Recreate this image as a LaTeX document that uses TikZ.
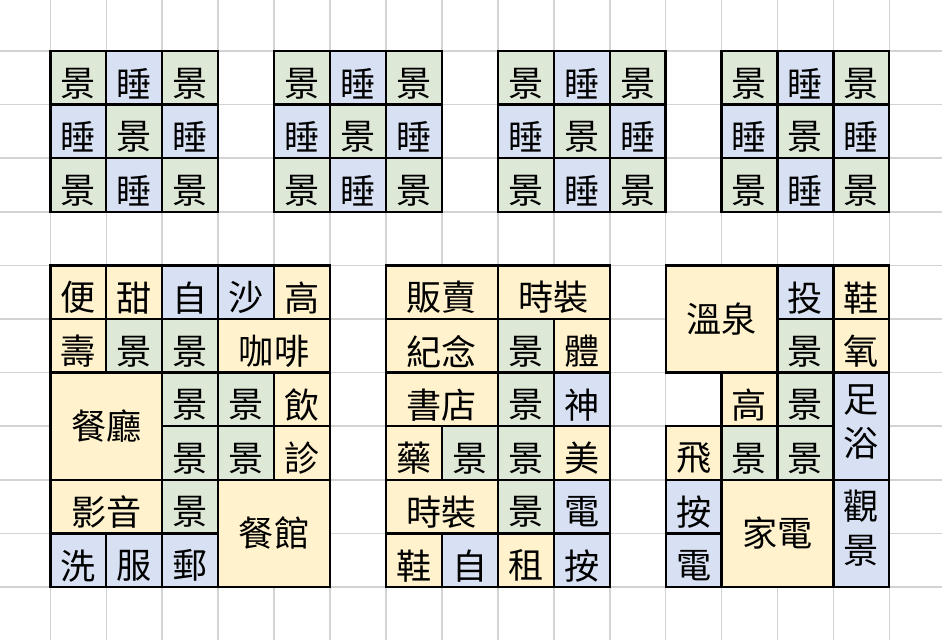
\documentclass[tikz,border=0pt]{standalone}
\usepackage{fontspec}
\newfontfamily\cjk{Noto Sans CJK TC}
\definecolor{yel}{HTML}{FFF2CC}
\definecolor{grn}{HTML}{DEE8D6}
\definecolor{blu}{HTML}{D8E1F3}
\definecolor{gridgray}{HTML}{D3D3D3}
\tikzset{
  cellbase/.style={draw=black, line width=1.3pt, rectangle, inner sep=0pt, outer sep=0pt, anchor=north west},
  celltext/.style={font=\cjk\fontsize{20}{25}\selectfont, inner sep=0pt, align=center, text=black},
  gridline/.style={draw=gridgray, line width=0.9pt}
}
% col row w h fill text [yshift]
\newcommand\cellbox[7][-0.11cm]{%
  \node[cellbase, fill=#6, minimum width={#4*1.1186cm}, minimum height={#5*1.072cm}] (c#2-#3) at ({50.4+55.93*#2},{51+53.6*#3}) {};
  \node[celltext] (t#2-#3) at ([yshift=#1]c#2-#3.center) {#7};}
\begin{document}
\begin{tikzpicture}[x=0.02cm,y=-0.02cm]
\useasboundingbox (0,0) rectangle (942,640);
\fill[white] (0,0) rectangle (942,640);
% background grid
\foreach \k in {0,...,10}{\draw[gridline] (0,{51+53.6*\k}) -- (942,{51+53.6*\k});}
\foreach \k in {0,...,15}{\draw[gridline] ({50.4+55.93*\k},0) -- ({50.4+55.93*\k},640);}
% top blocks
\foreach \b in {0,4,8,12}{
  \foreach \i/\j/\s/\t in {0/0/grn/景,1/0/blu/睡,2/0/grn/景,0/1/blu/睡,1/1/grn/景,2/1/blu/睡,0/2/grn/景,1/2/blu/睡,2/2/grn/景}{
    \pgfmathtruncatemacro\cc{\b+\i}
    \cellbox{\cc}{\j}{1}{1}{\s}{\t}
  }
}
% block A
\cellbox{0}{4}{1}{1}{yel}{便}
\cellbox{1}{4}{1}{1}{yel}{甜}
\cellbox{2}{4}{1}{1}{blu}{自}
\cellbox{3}{4}{1}{1}{blu}{沙}
\cellbox{4}{4}{1}{1}{yel}{高}
\cellbox{0}{5}{1}{1}{yel}{壽}
\cellbox{1}{5}{1}{1}{grn}{景}
\cellbox{2}{5}{1}{1}{grn}{景}
\cellbox{3}{5}{2}{1}{yel}{咖啡}
\cellbox[0cm]{0}{6}{2}{2}{yel}{餐廳}
\cellbox{2}{6}{1}{1}{grn}{景}
\cellbox{3}{6}{1}{1}{grn}{景}
\cellbox{4}{6}{1}{1}{yel}{飲}
\cellbox{2}{7}{1}{1}{grn}{景}
\cellbox{3}{7}{1}{1}{grn}{景}
\cellbox{4}{7}{1}{1}{yel}{診}
\cellbox{0}{8}{2}{1}{yel}{影音}
\cellbox{2}{8}{1}{1}{grn}{景}
\cellbox[0cm]{3}{8}{2}{2}{yel}{餐館}
\cellbox{0}{9}{1}{1}{blu}{洗}
\cellbox{1}{9}{1}{1}{blu}{服}
\cellbox{2}{9}{1}{1}{blu}{郵}
% block B
\cellbox{6}{4}{2}{1}{yel}{販賣}
\cellbox{8}{4}{2}{1}{yel}{時裝}
\cellbox{6}{5}{2}{1}{yel}{紀念}
\cellbox{8}{5}{1}{1}{grn}{景}
\cellbox{9}{5}{1}{1}{yel}{體}
\cellbox{6}{6}{2}{1}{yel}{書店}
\cellbox{8}{6}{1}{1}{grn}{景}
\cellbox{9}{6}{1}{1}{blu}{神}
\cellbox{6}{7}{1}{1}{yel}{藥}
\cellbox{7}{7}{1}{1}{grn}{景}
\cellbox{8}{7}{1}{1}{grn}{景}
\cellbox{9}{7}{1}{1}{yel}{美}
\cellbox{6}{8}{2}{1}{yel}{時裝}
\cellbox{8}{8}{1}{1}{grn}{景}
\cellbox{9}{8}{1}{1}{blu}{電}
\cellbox{6}{9}{1}{1}{yel}{鞋}
\cellbox{7}{9}{1}{1}{blu}{自}
\cellbox{8}{9}{1}{1}{yel}{租}
\cellbox{9}{9}{1}{1}{blu}{按}
% block C
\cellbox[0cm]{11}{4}{2}{2}{yel}{溫泉}
\cellbox{13}{4}{1}{1}{blu}{投}
\cellbox{14}{4}{1}{1}{yel}{鞋}
\cellbox{13}{5}{1}{1}{grn}{景}
\cellbox{14}{5}{1}{1}{yel}{氧}
\cellbox{12}{6}{1}{1}{yel}{高}
\cellbox{13}{6}{1}{1}{grn}{景}
\cellbox[0.08cm]{14}{6}{1}{2}{blu}{足\\浴}
\cellbox{11}{7}{1}{1}{yel}{飛}
\cellbox{12}{7}{1}{1}{grn}{景}
\cellbox{13}{7}{1}{1}{grn}{景}
\cellbox{11}{8}{1}{1}{blu}{按}
\cellbox[0cm]{12}{8}{2}{2}{yel}{家電}
\cellbox[0.1cm]{14}{8}{1}{2}{blu}{觀\\景}
\cellbox{11}{9}{1}{1}{blu}{電}
\end{tikzpicture}
\end{document}
